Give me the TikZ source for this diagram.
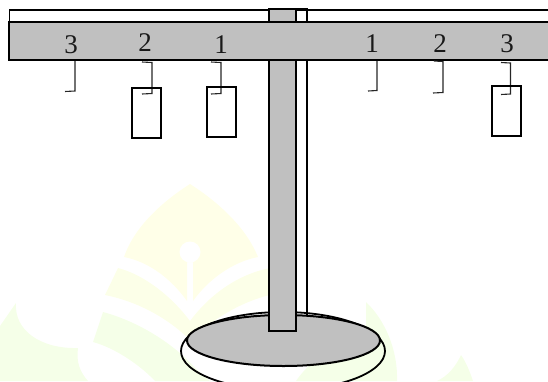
\documentclass[tikz,border=0pt]{standalone}
\usepackage{fontspec}
\setmainfont{Liberation Serif}
\definecolor{beamgray}{RGB}{192,192,192}
\definecolor{wmA}{RGB}{255,255,232}
\definecolor{wmB}{RGB}{252,255,232}
\definecolor{wmC}{RGB}{245,255,232}
\tikzset{
  part/.style={draw=black,line width=2pt,fill=beamgray},
  outline/.style={draw=black,line width=1.8pt},
  hook/.style={draw=black!85,line width=1.1pt},
  weight/.style={draw=black,line width=2pt},
  digit/.style={font=\fontsize{27}{27}\selectfont,inner sep=0pt,text=black!90}
}
\begin{document}
\begin{tikzpicture}[x=1pt,y=-1pt]
\useasboundingbox (0,0) rectangle (548,381);
\clip (0,0) rectangle (548,381);
% watermark
\fill[wmA] (190,184) .. controls (165,200) and (135,225) .. (124,257) .. controls (150,262) and (172,280) .. (187,301) -- (187,262) -- (193,262) -- (193,301) .. controls (208,280) and (232,262) .. (258,257) .. controls (245,225) and (215,200) .. (190,184) -- cycle;
\fill[white] (190,252) circle (10.5);
\fill[wmB] (118,268) .. controls (145,275) and (172,297) .. (190,321) .. controls (208,297) and (235,275) .. (270,268) -- (270,295) .. controls (240,302) and (212,320) .. (190,340) .. controls (170,320) and (140,302) .. (105,295) -- cycle;
\fill[wmC] (103,312) .. controls (140,322) and (175,345) .. (195,368) -- (210,381) -- (155,381) .. controls (140,365) and (115,348) .. (93,342) -- cycle;
\fill[wmC] (0,326) -- (16,303) .. controls (14,330) and (40,349) .. (78,348) .. controls (76,362) and (80,372) .. (88,381) -- (0,381) -- cycle;
\fill[wmC] (366,302) .. controls (385,320) and (398,350) .. (397,381) -- (296,381) .. controls (310,360) and (340,340) .. (366,325) -- cycle;
\fill[wmC] (461,355) .. controls (466,362) and (470,372) .. (473,381) -- (437,381) .. controls (448,376) and (456,366) .. (461,355) -- cycle;
% back parts
\draw[outline] (9.5,21) -- (9.5,10) -- (548,10);
\draw[outline] (296,8.5) rectangle (307,316);
\draw[outline] (283,351) ellipse [x radius=102,y radius=39];
% base, pole, beam
\draw[part] (283.5,340.5) ellipse [x radius=96.5,y radius=25.5];
\draw[part] (269,8.5) rectangle (296,331);
\draw[part] (550,21.5) -- (9,21.5) -- (9,60) -- (550,60);
% digits
\node[digit] (a3) at (71,44.5) {3};
\node[digit] (a2) at (145,43) {2};
\node[digit] (a1) at (221,45) {1};
\node[digit] (b1) at (372,44) {1};
\node[digit] (b2) at (440,44) {2};
\node[digit] (b3) at (507,44) {3};
% hooks
\draw[hook] (75,61) -- (75,91) -- (65,91.5);
\draw[hook] (142,62) -- (152,62.5) -- (152,93.5) -- (142,94);
\draw[hook] (211,62) -- (221,62.5) -- (221,93.5) -- (211,94);
\draw[hook] (377,61) -- (377,90.5) -- (368,91);
\draw[hook] (434,61) -- (443,61.5) -- (443,92.5) -- (433,93);
\draw[hook] (501,62.5) -- (510.5,63) -- (510.5,94) -- (501,94.5);
% weights
\draw[weight] (132,87.5) rectangle (161,138);
\draw[weight] (207,87) rectangle (236,137);
\draw[weight] (492,85.5) rectangle (521,136);
\end{tikzpicture}
\end{document}
